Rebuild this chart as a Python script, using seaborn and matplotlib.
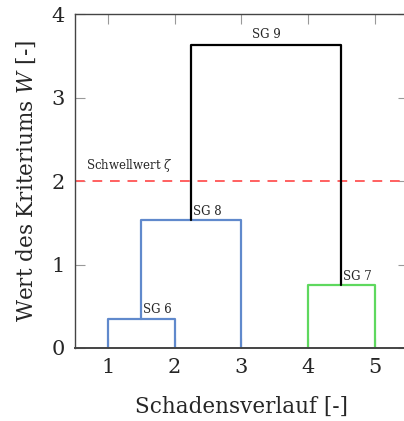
import pandas as pd
import matplotlib
matplotlib.use('Agg')
import matplotlib.pyplot as plt
import seaborn as sns

sns.set_theme(style='ticks')
plt.rcParams['font.family'] = ['DejaVu Serif']
plt.rcParams['mathtext.fontset'] = 'dejavuserif'

LEAVES = [1, 2, 3, 4, 5]
CLUSTERS = ['SG 6', 'SG 7', 'SG 8', 'SG 9']
MERGE_LEFT = [1, 4, 'SG 6', 'SG 8']
MERGE_RIGHT = [2, 5, 3, 'SG 7']
HEIGHTS = [0.35, 0.75, 1.53, 3.63]
COLORS = ['#6089cc', '#5ed85e', '#6089cc', 'black']
THRESHOLD = 2.0


def build_links():
    pos = {leaf: (leaf, 0.0) for leaf in LEAVES}
    rows = []
    for name, l, r, h in zip(CLUSTERS, MERGE_LEFT, MERGE_RIGHT, HEIGHTS):
        (xl, yl), (xr, yr) = pos[l], pos[r]
        for x, y in [(xl, yl), (xl, h), (xr, h), (xr, yr)]:
            rows.append({'cluster': name, 'x': x, 'y': y})
        pos[name] = ((xl + xr) / 2, h)
    return pd.DataFrame(rows), pos


def main():
    df, pos = build_links()
    fig = plt.figure(figsize=(4.04, 4.21), dpi=100)
    ax = fig.add_axes([0.1846, 0.1734, 0.825, 0.7933])

    sns.lineplot(data=df, x='x', y='y', hue='cluster', sort=False, estimator=None,
                 palette=dict(zip(CLUSTERS, COLORS)), linewidth=1.6, legend=False, ax=ax)

    for name in CLUSTERS:
        x, h = pos[name]
        if name == CLUSTERS[-1]:
            ax.text(x, h + 0.05, name, ha='center', va='bottom', fontsize=8.5)
        else:
            ax.text(x + 0.02, h + 0.03, name, ha='left', va='bottom', fontsize=8.5)

    ax.axhline(THRESHOLD, color='#ff6060', linestyle=(0, (5, 4)), linewidth=1.4, zorder=1)
    ax.text(0.67, THRESHOLD + 0.08, r'Schwellwert $\zeta$', fontsize=8.5, ha='left', va='bottom')

    ax.set_xlim(0.5, 5.5)
    ax.set_ylim(0, 4)
    ax.set_xticks(LEAVES)
    ax.set_yticks([0, 1, 2, 3, 4])
    ax.tick_params(direction='in', length=7, width=0.8, color='#999999', labelsize=15,
                   top=True, right=True, pad=7)
    for s in ax.spines.values():
        s.set_color('#444444')
        s.set_linewidth(1.0)
    ax.spines['bottom'].set_linewidth(1.4)

    ax.set_xlabel('Schadensverlauf [-]', fontsize=15.5, labelpad=14)
    ax.set_ylabel(r'Wert des Kriteriums $W$ [-]', fontsize=15.5, labelpad=10)

    fig.savefig('out.png', dpi=100)


if __name__ == '__main__':
    main()
